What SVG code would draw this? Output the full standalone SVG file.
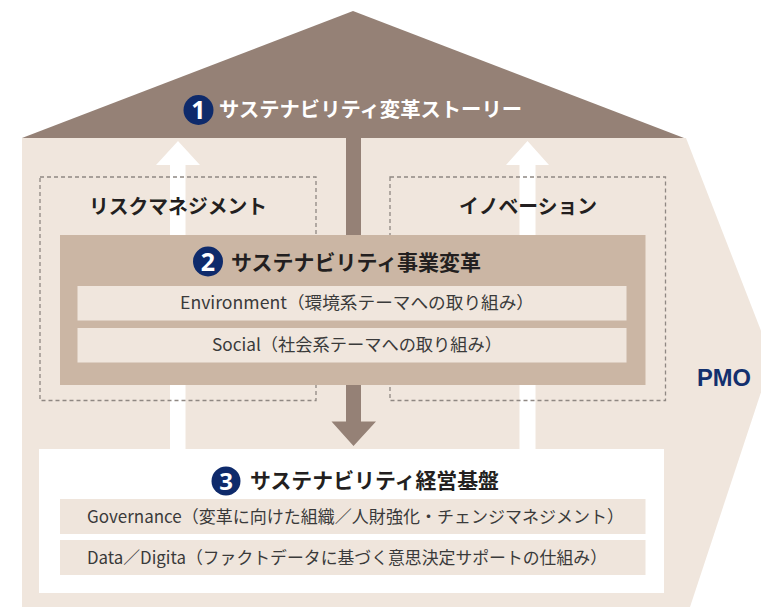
<svg xmlns="http://www.w3.org/2000/svg" width="761" height="609" viewBox="0 0 761 609">
<style>
.jp{font-family:"Noto Sans CJK JP","Noto Sans",sans-serif}
.hd{font-weight:bold;fill:#231f20}
.row{font-size:17px;fill:#3a3a3a}
.num{font-family:"Noto Sans","Liberation Sans",sans-serif;font-weight:bold;fill:#fff;text-anchor:middle}
.badge{fill:#0e2a6b}
.dash{fill:none;stroke:#8f8883;stroke-width:1.3;stroke-dasharray:4 3}
</style>
<rect width="761" height="609" fill="#fff"/>
<g id="body">
<polygon points="22,138 686,138 772,359 690,607 22,607" fill="#f0e6dd"/>
</g>
<g id="roof">
<polygon points="353,11 684,138 22,138" fill="#958176"/>
<circle class="badge" cx="198.5" cy="110" r="15"/>
<text class="num" x="198.5" y="119" font-size="25">1</text>
<text class="jp" x="219" y="117" font-size="20" font-weight="bold" fill="#fff" textLength="303" lengthAdjust="spacingAndGlyphs">サステナビリティ変革ストーリー</text>
</g>
<g id="connectors">
<polygon points="170,450 170,165 156,165 178,141 200,165 185.5,165 185.5,450" fill="#fff"/>
<polygon points="519.5,450 519.5,165 506,165 527.5,141 549,165 535.5,165 535.5,450" fill="#fff"/>
<polygon points="346,138 361,138 361,421.5 376,421.5 353.5,446 331.5,421.5 346,421.5" fill="#958176"/>
</g>
<g id="risk">
<rect class="dash" x="40" y="177" width="276" height="223.5"/>
<text class="jp hd" x="89" y="214" font-size="20" textLength="178" lengthAdjust="spacingAndGlyphs">リスクマネジメント</text>
</g>
<g id="innovation">
<rect class="dash" x="390" y="177" width="275.5" height="223.5"/>
<text class="jp hd" x="459" y="214" font-size="20" textLength="138" lengthAdjust="spacingAndGlyphs">イノベーション</text>
</g>
<g id="business">
<rect x="60" y="235" width="585.5" height="150" fill="#cbb6a4"/>
<circle class="badge" cx="208" cy="261.5" r="15"/>
<text class="num" x="208" y="270.5" font-size="25">2</text>
<text class="jp hd" x="231" y="270" font-size="21" textLength="250" lengthAdjust="spacingAndGlyphs">サステナビリティ事業変革</text>
<rect x="77.5" y="286" width="549" height="34.5" fill="#f0e6dd"/>
<text class="jp row" x="180" y="309" textLength="354" lengthAdjust="spacingAndGlyphs">Environment（環境系テーマへの取り組み）</text>
<rect x="77.5" y="328" width="549" height="34.5" fill="#f0e6dd"/>
<text class="jp row" x="212" y="351" textLength="290" lengthAdjust="spacingAndGlyphs">Social（社会系テーマへの取り組み）</text>
</g>
<g id="foundation">
<rect x="39" y="449" width="625" height="144" fill="#fff"/>
<circle class="badge" cx="226" cy="481" r="14.5"/>
<text class="num" x="226" y="489.5" font-size="24">3</text>
<text class="jp hd" x="250" y="488" font-size="21" textLength="249" lengthAdjust="spacingAndGlyphs">サステナビリティ経営基盤</text>
<rect x="60" y="499" width="585.5" height="35" fill="#efe5dc"/>
<text class="jp row" x="87" y="523" textLength="537" lengthAdjust="spacingAndGlyphs">Governance（変革に向けた組織／人財強化・チェンジマネジメント）</text>
<rect x="60" y="540" width="585.5" height="35" fill="#efe5dc"/>
<text class="jp row" x="87" y="564" textLength="520" lengthAdjust="spacingAndGlyphs">Data／Digita（ファクトデータに基づく意思決定サポートの仕組み）</text>
</g>
<g id="pmo">
<text x="697" y="386" font-family="Liberation Sans,Arial,sans-serif" font-weight="bold" font-size="23" fill="#13306e" textLength="54" lengthAdjust="spacingAndGlyphs">PMO</text>
</g>
</svg>
